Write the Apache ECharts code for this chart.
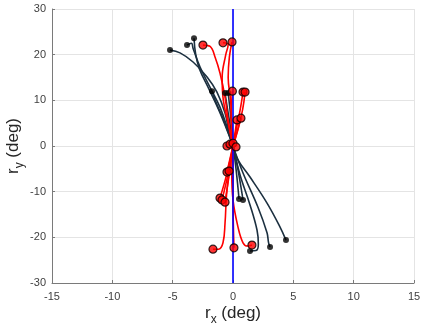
<!DOCTYPE html>
<html><head><meta charset="utf-8">
<script src="https://cdn.jsdelivr.net/npm/echarts@6/dist/echarts.min.js"></script>
<style>html,body{margin:0;padding:0;background:#fff}#c{width:423px;height:331px}</style>
</head><body><div id="c"></div>
<script>
// axis ticks
const xTicks = [-15, -10, -5, 0, 5, 10, 15];
const yTicks = [-30, -20, -10, 0, 10, 20, 30];

// dark trajectories (deg): [rx, ry]
const dark1 = [[0,0],[-0.25,2.0],[-0.66,7.2],[-1.33,11.8],[-2.15,15.1],[-3.31,18.4],[-4.39,20.4],[-5.22,21.0]];
const dark2 = [[0,0],[-0.41,3.5],[-1.08,8.5],[-1.91,12.9],[-2.73,17.3],[-3.3,21.3],[-3.45,22.5],[-3.81,22.1]];
const dark3 = [[0,0],[-0.5,3.5],[-1.2,8.0],[-2.0,12.5],[-2.8,17.0],[-3.1,20.2],[-3.23,23.6]];
const dark4 = [[0,0],[-0.4,3.0],[-0.9,6.5],[-1.4,9.5],[-1.74,12.0]];
const dark5 = [[0,0],[-0.2,4.0],[-0.45,8.0],[-0.66,11.6]];
const dark6 = [[0,0],[-0.1,4.0],[-0.25,8.0],[-0.4,11.6]];
const dark7 = [[0,0],[0.4,-3.0],[1.41,-6.8],[2.82,-12.5],[3.89,-17.7],[4.39,-20.6]];
const dark8 = [[0,0],[0.83,-5.9],[2.07,-13.4],[2.82,-19.0],[2.95,-21.2],[3.07,-22.1]];
const dark9 = [[0,0],[0.58,-6.3],[1.41,-12.9],[1.99,-18.4],[2.1,-21.5],[1.9,-22.9],[1.41,-23.0]];
const dark10 = [[0,0],[0.25,-5.0],[0.5,-11.6]];
const dark11 = [[0,0],[0.4,-5.0],[0.83,-11.8]];

// red trajectories (deg)
const red1 = [[0,0],[-0.41,5.7],[-0.66,10.7],[-1.08,16.0],[-1.49,19.5],[-1.9,21.8],[-2.49,22.1]];
const red2 = [[0,0],[-0.4,5.0],[-0.8,10.0],[-0.9,15.0],[-0.6,20.0],[-0.4,22.2],[-0.83,22.6]];
const red3 = [[0,0],[-0.1,5.0],[-0.2,10.0],[-0.4,15.0],[-0.3,19.5],[-0.08,22.8]];
const red4 = [[0,0],[-0.15,6.0],[-0.05,12.0]];
const red5 = [[0,0],[0.3,4.0],[0.6,8.0],[0.83,11.8]];
const red6 = [[0,0],[0.45,4.0],[0.8,8.0],[1.0,11.8]];
const red7 = [[0,0],[0.33,5.7]];
const red8 = [[0,0],[0.66,6.1]];
const red9 = [[0,0],[-0.5,-5.7]];
const red10 = [[0,0],[-0.33,-5.5]];
const red11 = [[0,0],[-0.5,-6.0],[-1.08,-11.4]];
const red12 = [[0,0],[-0.4,-6.0],[-0.91,-11.8]];
const red13 = [[0,0],[-0.3,-6.0],[-0.66,-12.3]];
const red14 = [[0,0],[-0.5,-9.6],[-0.66,-16.9],[-0.83,-21.2],[-1.2,-22.6],[-1.66,-22.6]];
const red15 = [[0,0],[0.0,-11.0],[0.08,-22.3]];
const red16 = [[0,0],[-0.1,-6.0],[0.0,-11.8],[0.41,-17.7],[0.83,-21.2],[1.2,-21.9],[1.57,-21.7]];

// red markers near the origin
const redOrigin = [[-0.5,0.0],[-0.25,0.4],[0.0,0.6],[0.25,-0.2]];

// vertical reference line
const refLine = [[0,-30],[0,30]];

const darkCurves = [dark1,dark2,dark3,dark4,dark5,dark6,dark7,dark8,dark9,dark10,dark11];
const redCurves = [red1,red2,red3,red4,red5,red6,red7,red8,red9,red10,red11,red12,red13,red14,red15,red16];

const DARK = '#1c3040';
const RED = '#ff0000';
const FONT = 'Liberation Sans';
const series = [];
darkCurves.forEach(c => series.push({type:'line', data:c, smooth:0.4, showSymbol:false, silent:true,
  lineStyle:{color:DARK, width:1.6}, z:2}));
redCurves.forEach(c => series.push({type:'line', data:c, smooth:0.4, showSymbol:false, silent:true,
  lineStyle:{color:RED, width:1.6}, z:3}));
series.push({type:'line', data:refLine, showSymbol:false, lineStyle:{color:'#0000ff', width:1.6}, z:4});
series.push({type:'scatter', data:darkCurves.map(c=>c[c.length-1]), symbolSize:6,
  itemStyle:{color:'#000'}, z:5});
series.push({type:'scatter', data:redCurves.map(c=>c[c.length-1]).concat(redOrigin), symbolSize:8,
  itemStyle:{color:RED, borderColor:'#000', borderWidth:1.2}, z:6});

const axisCommon = {
  nameMoveOverlap:false,
  axisLine:{show:true, onZero:false, lineStyle:{color:'#7a7a7a', width:1}},
  axisTick:{show:true, inside:true, length:3, lineStyle:{color:'#7a7a7a'}},
  splitLine:{show:true, lineStyle:{color:'#e4e4e4', width:1}},
  axisLabel:{color:'#404040', fontFamily:FONT, fontSize:11},
  nameTextStyle:{color:'#262626', fontFamily:FONT,
    rich:{a:{fontSize:17, fontFamily:FONT, color:'#262626'},
          s:{fontSize:12, fontFamily:FONT, color:'#262626', padding:[14,0,0,0]}}}
};

const chart = echarts.init(document.getElementById('c'), null, {renderer:'canvas'});
chart.setOption({
  animation:false,
  grid:{left:52, right:9, top:9, bottom:48, containLabel:false, outerBoundsMode:'none'},
  xAxis:Object.assign({type:'value', min:xTicks[0], max:xTicks[xTicks.length-1], interval:5,
    name:'{a|r}{s|x}{a| (deg)}', nameLocation:'middle', nameGap:17}, axisCommon,
    {axisLabel:Object.assign({}, axisCommon.axisLabel, {margin:8})}),
  yAxis:Object.assign({type:'value', min:yTicks[0], max:yTicks[yTicks.length-1], interval:10,
    name:'{a|r}{s|y}{a| (deg)}', nameLocation:'middle', nameGap:26}, axisCommon,
    {axisLabel:Object.assign({}, axisCommon.axisLabel, {margin:6})}),
  series:series
});
</script></body></html>
